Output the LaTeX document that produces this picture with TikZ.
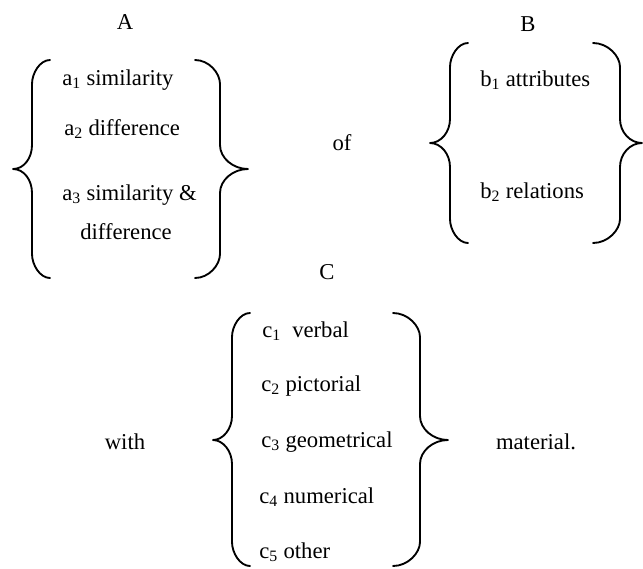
\documentclass[tikz,border=0pt]{standalone}
\usepackage{fontspec}
\setmainfont{Liberation Serif}
\usepackage{tikz}

\tikzset{
  curly/.style={line width=1.4pt,line cap=round,line join=round},
  item/.style={anchor=west,inner sep=0pt},
  word/.style={inner sep=0pt}
}

\begin{document}
\begin{tikzpicture}[x=0.75pt,y=-0.75pt,font=\fontsize{17}{20}\selectfont]
\useasboundingbox (0,0) rectangle (643,568);

% group A
\node[word] (A) at (125,22) {A};
\draw [curly] (50,60) .. controls (40,60) and (32,73) .. (32,84) -- (32,145)
  .. controls (32,158) and (24,169) .. (13,169) .. controls (24,169) and (32,180) .. (32,193)
  -- (32,254) .. controls (32,265) and (40,278) .. (50,278);
\draw [curly] (195,60) .. controls (209,60) and (220,73) .. (220,84) -- (220,145)
  .. controls (220,158) and (233,169) .. (248,169) .. controls (233,169) and (220,180) .. (220,193)
  -- (220,254) .. controls (220,265) and (209,278) .. (195,278);
\node[item] (a1) at (62,80) {a\textsubscript{1} similarity};
\node[item] (a2) at (64,129) {a\textsubscript{2} difference};
\node[item] (a3) at (62,195) {a\textsubscript{3} similarity \&};
\node[item] (a3b) at (80,232) {difference};

\node[word] (of) at (342,143) {of};

% group B
\node[word] (B) at (528,24) {B};
\draw [curly] (468,43) .. controls (458,43) and (450,56) .. (450,67) -- (450,119)
  .. controls (450,132) and (441,143) .. (430,143) .. controls (441,143) and (450,154) .. (450,167)
  -- (450,219) .. controls (450,230) and (458,243) .. (468,243);
\draw [curly] (593,43) .. controls (608,43) and (620,56) .. (620,67) -- (620,119)
  .. controls (620,132) and (630,143) .. (642,143) .. controls (630,143) and (620,154) .. (620,167)
  -- (620,219) .. controls (620,230) and (608,243) .. (593,243);
\node[item] (b1) at (480,80) {b\textsubscript{1} attributes};
\node[item] (b2) at (480,192) {b\textsubscript{2} relations};

% group C
\node[word] (C) at (327,272) {C};
\draw [curly] (250,313) .. controls (240,313) and (232,326) .. (232,337) -- (232,416)
  .. controls (232,429) and (223,440) .. (213,440) .. controls (223,440) and (232,451) .. (232,464)
  -- (232,542) .. controls (232,553) and (240,566) .. (250,566);
\draw [curly] (393,313) .. controls (408,313) and (420,326) .. (420,337) -- (420,416)
  .. controls (420,429) and (433,440) .. (448,440) .. controls (433,440) and (420,451) .. (420,464)
  -- (420,542) .. controls (420,553) and (408,566) .. (393,566);
\node[item] (c1) at (262,331) {c\textsubscript{1}\ \ verbal};
\node[item] (c2) at (261,386) {c\textsubscript{2} pictorial};
\node[item] (c3) at (261,442) {c\textsubscript{3} geometrical};
\node[item] (c4) at (259,497) {c\textsubscript{4} numerical};
\node[item] (c5) at (259,552) {c\textsubscript{5} other};

\node[word] (with) at (125,442) {with};
\node[word] (mat) at (536,442) {material.};
\end{tikzpicture}
\end{document}
